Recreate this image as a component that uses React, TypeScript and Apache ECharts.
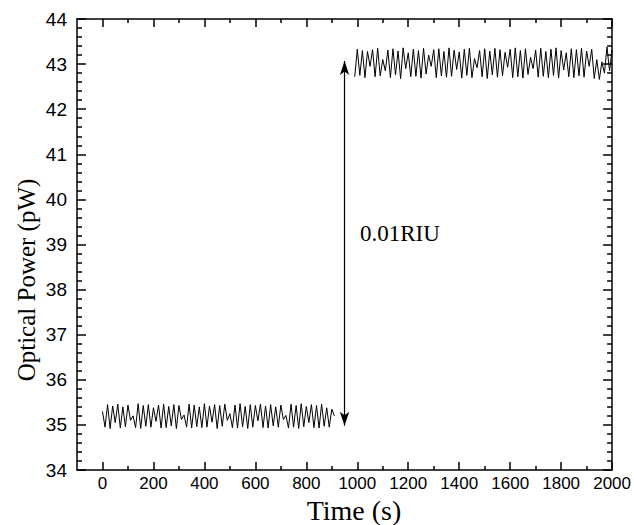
import React, { useEffect, useRef } from "react";
import * as echarts from "echarts";

// ---- Data ----
const step = 10; // sampling interval (s)
const lowStart = 0;
const highStart = 990;

const lowValues = [
  35.30, 34.95, 35.45, 34.92, 35.42, 35.05, 35.46, 34.93, 35.40, 34.96,
  35.44, 35.10, 35.20, 34.94, 35.47, 34.92, 35.43, 34.97, 35.45, 34.95,
  35.38, 35.08, 35.44, 34.93, 35.46, 34.94, 35.41, 34.98, 35.45, 34.92,
  35.43, 35.12, 35.22, 34.95, 35.46, 34.93, 35.44, 34.96, 35.40, 34.94,
  35.47, 34.95, 35.42, 35.06, 35.45, 34.92, 35.43, 34.97, 35.46, 35.10,
  35.25, 34.94, 35.44, 34.93, 35.47, 34.96, 35.41, 34.92, 35.45, 34.95,
  35.43, 35.09, 35.46, 34.94, 35.42, 34.93, 35.45, 34.98, 35.40, 34.95,
  35.44, 35.12, 35.21, 34.93, 35.46, 34.95, 35.43, 34.92, 35.47, 34.96,
  35.41, 35.05, 35.45, 34.94, 35.43, 34.93, 35.46, 34.97, 35.38, 34.95,
  35.35, 35.20,
];

const highValues = [
  42.72, 43.33, 42.75, 43.30, 42.70, 43.28, 42.95, 43.32, 42.72, 43.35,
  42.74, 43.10, 42.85, 43.31, 42.70, 43.34, 42.76, 43.29, 42.68, 43.36,
  42.90, 43.25, 42.72, 43.33, 42.73, 43.30, 42.69, 43.35, 42.78, 43.20,
  42.95, 43.32, 42.70, 43.34, 42.74, 43.28, 42.71, 43.36, 42.73, 43.31,
  42.88, 43.27, 42.69, 43.33, 42.75, 43.35, 42.70, 43.12, 42.92, 43.30,
  42.72, 43.34, 42.68, 43.29, 42.76, 43.35, 42.71, 43.32, 42.74, 43.26,
  42.93, 43.33, 42.70, 43.36, 42.72, 43.30, 42.69, 43.34, 42.77, 43.15,
  42.90, 43.31, 42.71, 43.35, 42.73, 43.28, 42.70, 43.33, 42.75, 43.36,
  42.69, 43.30, 42.87, 43.25, 42.72, 43.34, 42.70, 43.32, 42.74, 43.35,
  42.71, 43.29, 42.95, 43.33, 42.68, 43.10, 42.66, 43.05, 42.80, 43.38,
  42.85, 43.32,
];

const xMajorTicks = [0, 200, 400, 600, 800, 1000, 1200, 1400, 1600, 1800, 2000];
const xMinorTicks = [100, 300, 500, 700, 900, 1100, 1300, 1500, 1700, 1900];
const yMajorTicks = [34, 35, 36, 37, 38, 39, 40, 41, 42, 43, 44];
const yMinorTicks = [
  34.2, 34.4, 34.6, 34.8, 35.2, 35.4, 35.6, 35.8, 36.2, 36.4, 36.6, 36.8,
  37.2, 37.4, 37.6, 37.8, 38.2, 38.4, 38.6, 38.8, 39.2, 39.4, 39.6, 39.8,
  40.2, 40.4, 40.6, 40.8, 41.2, 41.4, 41.6, 41.8, 42.2, 42.4, 42.6, 42.8,
  43.2, 43.4, 43.6, 43.8,
];
const xMin = -100;
const xMax = 2000;
const yMin = 34;
const yMax = 44;

const arrowX = 950;
const arrowBottom = 34.98;
const arrowTop = 43.07;
const annotationText = "0.01RIU";
const xTitle = "Time (s)";
const yTitle = "Optical Power (pW)";

export default function App() {
  const ref = useRef<HTMLDivElement>(null);

  useEffect(() => {
    if (!ref.current) return;
    const chart = echarts.init(ref.current, undefined, { renderer: "svg" });

    const black = "#000";
    const lineW = 1.5;
    const plain = (v: number) => String(v);

    const xAxisBase = (position: "top" | "bottom", major: boolean, labels: boolean) => ({
      type: "value",
      min: xMin,
      max: xMax,
      position,
      offset: 0,
      axisLine: { show: major, onZero: false, lineStyle: { color: black, width: lineW } },
      axisTick: {
        show: true,
        inside: true,
        length: major ? 8 : 4,
        customValues: major ? xMajorTicks : xMinorTicks,
        lineStyle: { color: black, width: lineW },
      },
      axisLabel: labels
        ? {
            show: true,
            customValues: xMajorTicks,
            formatter: plain,
            margin: 5,
            color: black,
            fontSize: 17,
            fontFamily: "Liberation Sans",
          }
        : { show: false },
      splitLine: { show: false },
    });

    const yAxisBase = (position: "left" | "right", major: boolean, labels: boolean) => ({
      type: "value",
      min: yMin,
      max: yMax,
      position,
      offset: 0,
      axisLine: { show: major, onZero: false, lineStyle: { color: black, width: lineW } },
      axisTick: {
        show: true,
        inside: true,
        length: major ? 9 : 5,
        customValues: major ? yMajorTicks : yMinorTicks,
        lineStyle: { color: black, width: lineW },
      },
      axisLabel: labels
        ? {
            show: true,
            customValues: yMajorTicks,
            margin: 10,
            formatter: plain,
            color: black,
            fontSize: 19,
            fontFamily: "Liberation Sans",
          }
        : { show: false },
      splitLine: { show: false },
    });

    chart.setOption({
      animation: false,
      grid: { left: 77, right: 20, top: 19, bottom: 55, containLabel: false },
      xAxis: [
        xAxisBase("bottom", true, true),
        xAxisBase("bottom", false, false),
        xAxisBase("top", true, false),
        xAxisBase("top", false, false),
      ],
      yAxis: [
        yAxisBase("left", true, true),
        yAxisBase("left", false, false),
        yAxisBase("right", true, false),
        yAxisBase("right", false, false),
      ],
      series: [
        {
          type: "line",
          xAxisIndex: 0,
          yAxisIndex: 0,
          data: lowValues.map((v, i) => [lowStart + i * step, v]),
          showSymbol: false,
          symbol: "none",
          lineStyle: { color: black, width: 1 },
        },
        {
          type: "line",
          xAxisIndex: 0,
          yAxisIndex: 0,
          data: highValues.map((v, i) => [highStart + i * step, v]),
          showSymbol: false,
          symbol: "none",
          lineStyle: { color: black, width: 1 },
          markLine: {
            silent: true,
            symbol: ["arrow", "arrow"],
            symbolSize: [7, 14],
            label: { show: false },
            lineStyle: { color: black, width: 1.2, type: "solid" },
            data: [[{ coord: [arrowX, arrowBottom] }, { coord: [arrowX, arrowTop] }]],
          },
        },
      ],
      graphic: [
        {
          type: "text",
          x: 360,
          y: 233,
          style: {
            text: annotationText,
            fill: black,
            font: "23px 'Liberation Serif'",
            textAlign: "left",
            textVerticalAlign: "middle",
          },
        },
        {
          type: "text",
          x: 354,
          y: 510,
          style: {
            text: xTitle,
            fill: black,
            font: "28px 'Liberation Serif'",
            textAlign: "center",
            textVerticalAlign: "middle",
          },
        },
        {
          type: "text",
          x: 26,
          y: 280,
          rotation: Math.PI / 2,
          style: {
            text: yTitle,
            fill: black,
            font: "25px 'Liberation Serif'",
            textAlign: "center",
            textVerticalAlign: "middle",
          },
        },
      ],
    });

    return () => chart.dispose();
  }, []);

  return (
    <div
      ref={ref}
      style={{ position: "absolute", left: 0, top: 0, width: 634, height: 525, background: "#fff" }}
    />
  );
}
